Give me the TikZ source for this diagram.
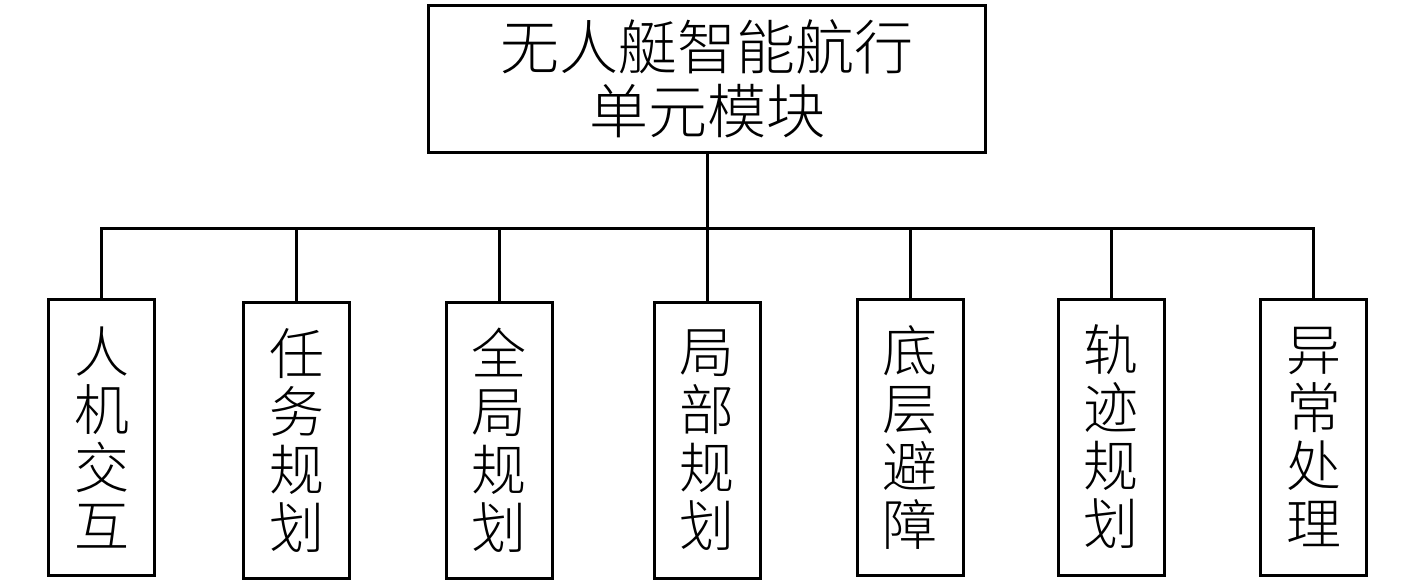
\documentclass[tikz,border=0pt]{standalone}
\usepackage{fontspec}
\setmainfont{Noto Sans CJK SC Light}
\begin{document}
\begin{tikzpicture}[x=1pt,y=-1pt]
\tikzset{
  topbox/.style={draw, line width=3pt, minimum width=557pt, minimum height=146pt, inner sep=0pt, align=center, font=\fontsize{59}{64}\selectfont},
  leafbox/.style={draw, line width=3pt, minimum width=106pt, minimum height=276pt, inner sep=0pt, align=center, font=\fontsize{55}{58}\selectfont},
  wire/.style={line width=3pt}
}
\fill[white] (0,0) rectangle (1417,586);
\useasboundingbox (0,0) rectangle (1417,586);
\node[topbox] (top) at (707,79) {无人艇智能航行\\单元模块};
\node[leafbox] (c1) at (101.5,437.5) {人\\机\\交\\互};
\node[leafbox] (c2) at (296.5,440) {任\\务\\规\\划};
\node[leafbox] (c3) at (499,440) {全\\局\\规\\划};
\node[leafbox] (c4) at (707,440) {局\\部\\规\\划};
\node[leafbox] (c5) at (910,437.5) {底\\层\\避\\障};
\node[leafbox] (c6) at (1111,437) {轨\\迹\\规\\划};
\node[leafbox] (c7) at (1313.5,437) {异\\常\\处\\理};
\coordinate (bus) at (707,228);
\draw[wire] (top.south) -- (bus);
\draw[wire] (c1.north) |- (c7.north |- bus) -- (c7.north);
\foreach \n in {c2,c3,c4,c5,c6}{\draw[wire] (\n.north) -- (\n.north |- bus);}
\end{tikzpicture}
\end{document}
